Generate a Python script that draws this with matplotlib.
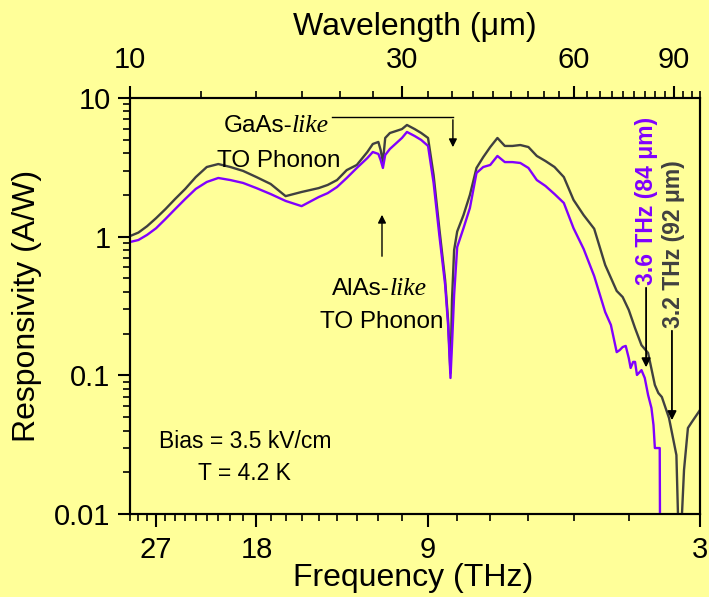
import matplotlib
matplotlib.use('Agg')
import matplotlib.pyplot as plt
from matplotlib.ticker import NullFormatter

plt.rcParams['font.family'] = ['Liberation Sans', 'DejaVu Sans']

BG = '#FFFF99'
GRAY = '#404040'
PURPLE = '#8000FF'

# ---- data (frequency in THz, responsivity in A/W) ----
freq_gray = [30, 29, 28, 27, 26, 25, 24, 23, 22, 21, 20, 19, 18, 17, 16, 15, 14, 13.5, 13, 12.5,
             12, 11.5, 11.25, 11, 10.9, 10.8, 10.7, 10.5, 10, 9.8, 9.5, 9.25, 9, 8.8, 8.6, 8.4, 8.3,
             8.22, 8.17, 8.1, 8.0, 7.8, 7.6, 7.4, 7.2, 7.0, 6.8, 6.6, 6.4, 6.2, 6.0, 5.8, 5.6, 5.4,
             5.2, 5.0, 4.8, 4.6, 4.4, 4.2, 4.1, 4.0, 3.9, 3.8, 3.7, 3.6, 3.55, 3.5, 3.4, 3.3, 3.26,
             3.2, 3.15, 3.1, 3.0]
resp_gray = [1.01, 1.07, 1.19, 1.36, 1.58, 1.87, 2.21, 2.69, 3.18, 3.34, 3.18, 2.98, 2.69, 2.40,
             1.96, 2.10, 2.24, 2.36, 2.56, 3.02, 3.29, 4.08, 4.66, 4.82, 4.22, 3.45, 5.15, 5.59,
             5.97, 6.39, 5.97, 5.59, 5.15, 2.78, 1.15, 0.487, 0.25, 0.104, 0.349, 0.80, 1.09, 1.43,
             2.0, 3.13, 3.75, 4.43, 5.15, 4.51, 4.51, 4.58, 4.43, 3.82, 3.51, 3.18, 2.69, 1.84,
             1.43, 1.14, 0.625, 0.406, 0.367, 0.296, 0.219, 0.165, 0.145, 0.0852, 0.0746, 0.0698,
             0.0492, 0.0266, 0.004, 0.0208, 0.0417, 0.0461, 0.0562]

freq_purple = [30, 29, 28, 27, 26, 25, 24, 23, 22, 21, 20, 19, 18, 17, 16, 15, 14, 13.5, 13, 12.5,
               12, 11.5, 11.25, 11, 10.9, 10.8, 10.7, 10.5, 10, 9.8, 9.5, 9.25, 9, 8.8, 8.6, 8.4,
               8.3, 8.22, 8.17, 8.1, 8.0, 7.8, 7.6, 7.4, 7.2, 7.0, 6.8, 6.6, 6.4, 6.2, 6.0, 5.8,
               5.6, 5.4, 5.2, 5.0, 4.8, 4.6, 4.4, 4.3, 4.2, 4.15, 4.1, 4.05, 4.0, 3.97, 3.93, 3.9,
               3.87, 3.8, 3.75, 3.7, 3.65, 3.62, 3.6, 3.53, 3.52]
resp_purple = [0.915, 0.946, 1.03, 1.15, 1.34, 1.58, 1.87, 2.21, 2.48, 2.65, 2.56, 2.44, 2.24,
               2.03, 1.81, 1.66, 1.93, 2.06, 2.28, 2.65, 3.13, 3.69, 4.08, 3.95, 3.57, 3.13, 3.88,
               4.29, 5.15, 5.69, 5.32, 4.98, 4.51, 2.44, 1.03, 0.45, 0.231, 0.0957, 0.165, 0.38,
               0.842, 1.15, 1.61, 2.88, 3.18, 3.29, 3.82, 3.45, 3.45, 3.40, 3.13, 2.56, 2.32, 2.03,
               1.75, 1.15, 0.815, 0.520, 0.286, 0.231, 0.147, 0.152, 0.160, 0.163, 0.133, 0.113,
               0.125, 0.125, 0.1006, 0.109, 0.0957, 0.0722, 0.0581, 0.0438, 0.0299, 0.0299, 0.001]

freq_major = [27, 18, 9, 3]
freq_minor = [f for f in range(3, 31) if f not in freq_major]
wl_major = [10, 30, 60, 90]
wl_minor = [10 + 10 * k / 3 for k in range(1, 28)]
resp_ticks = [0.01, 0.1, 1, 10]
resp_labels = ['0.01', '0.1', '1', '10']

# ---- figure ----
fig = plt.figure(figsize=(7.09, 5.97), dpi=100, facecolor=BG)
ax = fig.add_axes([130 / 709, 1 - 514 / 597, 570 / 709, 416 / 597])
ax.set_facecolor(BG)

ax.plot(freq_gray, resp_gray, color=GRAY, lw=1.7, zorder=3)
ax.plot(freq_purple, resp_purple, color=PURPLE, lw=1.7, zorder=4)

ax.set_xscale('log')
ax.set_yscale('log')
ax.set_xlim(30, 3)
ax.set_ylim(0.01, 10)

ax.set_xticks(freq_major)
ax.set_xticklabels([str(f) for f in freq_major])
ax.set_xticks(freq_minor, minor=True)
ax.xaxis.set_minor_formatter(NullFormatter())
ax.set_yticks(resp_ticks)
ax.set_yticklabels(resp_labels)
ax.yaxis.set_minor_formatter(NullFormatter())

ax.tick_params(which='major', direction='out', length=9, width=1.5, labelsize=21)
ax.tick_params(which='minor', direction='out', length=5, width=1.2)
ax.tick_params(axis='x', which='both', top=False, pad=7)
ax.tick_params(axis='y', which='both', right=False, pad=5)
for s in ax.spines.values():
    s.set_linewidth(1.5)

ax.set_xlabel('Frequency (THz)', fontsize=23)
ax.xaxis.label.set_va('center')
ax.xaxis.set_label_coords(0.497, -(578 - 514) / 416)
ax.set_ylabel('Responsivity (A/W)', fontsize=23)
ax.yaxis.label.set_va('center')
ax.yaxis.set_label_coords(-(130 - 27) / 570, 0.5)

# top wavelength axis
ax2 = ax.twiny()
ax2.set_xscale('log')
ax2.set_xlim(30, 3)
ax2.set_xticks([300 / w for w in wl_major])
ax2.set_xticklabels([str(w) for w in wl_major])
ax2.set_xticks([300 / w for w in wl_minor], minor=True)
ax2.xaxis.set_minor_formatter(NullFormatter())
ax2.tick_params(which='major', direction='out', length=9, width=1.5, labelsize=21, pad=8)
ax2.tick_params(which='minor', direction='out', length=5, width=1.2)
for s in ax2.spines.values():
    s.set_linewidth(1.5)
ax2.set_xlabel('Wavelength (μm)', fontsize=23)
ax2.xaxis.label.set_va('center')
ax2.xaxis.set_label_coords(0.5, 1 + (98 - 27) / 416)

# ---- annotations ----
# GaAs-like TO phonon
ax.text(15.59, 5.69, 'GaAs-', fontsize=17.5, ha='right', va='baseline', zorder=5)
ax.text(15.59, 5.69, 'like', fontsize=18.5, ha='left', va='baseline',
        family='Liberation Serif', style='italic', zorder=5)
ax.text(16.44, 3.18, 'TO Phonon', fontsize=17.5, ha='center', va='baseline', zorder=5)
ax.plot([13.26, 8.14], [7.29, 7.29], color='black', lw=1.0, zorder=5)
ax.annotate('', xy=(8.14, 4.22), xytext=(8.14, 7.29),
            arrowprops=dict(arrowstyle='-|>', color='black', lw=1.0, mutation_scale=12))

# AlAs-like TO phonon
ax.text(10.50, 0.3797, 'AlAs-', fontsize=17.5, ha='right', va='baseline', zorder=5)
ax.text(10.50, 0.3797, 'like', fontsize=18.5, ha='left', va='baseline',
        family='Liberation Serif', style='italic', zorder=5)
ax.text(10.84, 0.2195, 'TO Phonon', fontsize=17.5, ha='center', va='baseline', zorder=5)
ax.annotate('', xy=(10.84, 1.506), xytext=(10.84, 0.690),
            arrowprops=dict(arrowstyle='-|>', color='black', lw=1.0, mutation_scale=12))

# cut-off labels
ax.text(3.717, 1.81, '3.6 THz (84 μm)', rotation=90, fontsize=16.5, fontweight='bold',
        color=PURPLE, ha='center', va='center', zorder=5)
ax.annotate('', xy=(3.73, 0.109), xytext=(3.73, 0.448),
            arrowprops=dict(arrowstyle='-|>', color='black', lw=1.3, mutation_scale=13))
ax.text(3.345, 0.885, '3.2 THz (92 μm)', rotation=90, fontsize=16.5, fontweight='bold',
        color=GRAY, ha='center', va='center', zorder=5)
ax.annotate('', xy=(3.36, 0.0453), xytext=(3.36, 0.2195),
            arrowprops=dict(arrowstyle='-|>', color='black', lw=1.3, mutation_scale=13))

# conditions
ax.text(18.86, 0.0299, 'Bias = 3.5 kV/cm', fontsize=16.5, ha='center', va='baseline')
ax.text(18.86, 0.01758, 'T = 4.2 K', fontsize=16.5, ha='center', va='baseline')

fig.savefig('out.png', dpi=100, facecolor=BG)
